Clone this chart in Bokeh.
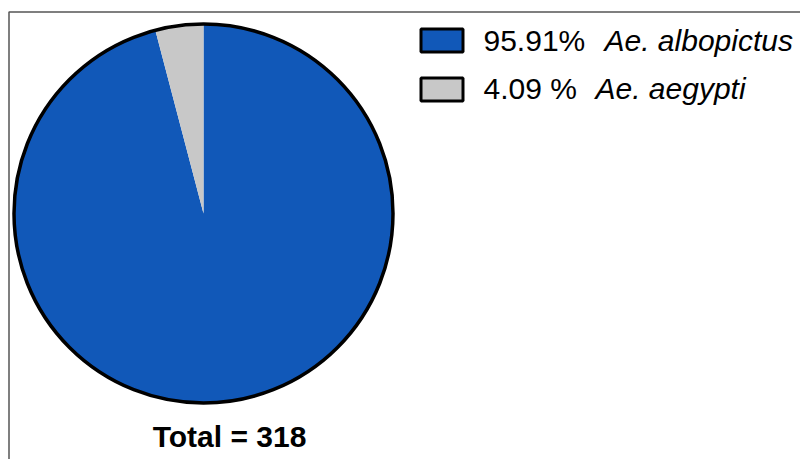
import math
from bokeh.plotting import figure
from bokeh.models import Range1d
from bokeh.core.properties import value
from bokeh.embed import file_html
from bokeh.resources import INLINE

species = ["Ae. albopictus", "Ae. aegypti"]
pct_labels = ["95.91%", "4.09 %"]
percents = [95.91, 4.09]
colors = ["#1158B8", "#C8C8C8"]
total = 318

W, H = 800, 459
p = figure(width=W, height=H, output_backend="svg", toolbar_location=None,
           x_range=Range1d(0, W), y_range=Range1d(0, H), min_border=0)
p.axis.visible = False
p.grid.visible = False
p.outline_line_color = None
p.background_fill_color = "white"

def Y(y):
    return H - y

TOFF = 11  # baseline correction for svg text

# frame
p.line([8.5, 8.5, W], [Y(H), Y(11.5), Y(11.5)], line_color="#555555", line_width=1.5)

cx, cy, r = 203, Y(213), 189.5
start = math.pi / 2
angles = []
for pc in reversed(percents):
    a = pc / 100 * 2 * math.pi
    angles.append((start, start + a))
    start += a
angles = list(reversed(angles))
for (a0, a1), c in zip(angles, colors):
    p.wedge(x=cx, y=cy, radius=r, start_angle=a0, end_angle=a1, direction="anticlock",
            fill_color=c, line_color=None)
p.circle(x=cx, y=cy, radius=r, fill_color=None, line_color="black", line_width=3.5)

p.text(x=[229], y=[Y(447 - TOFF)], text=[f"Total = {total}"], text_align="center",
       text_baseline="alphabetic", text_font=value("Liberation Sans"),
       text_font_style="bold", text_font_size="30px", text_color="black")

box_tops = [27, 76]
baselines = [51, 99]
ital_x = [604, 595]
for i in range(len(species)):
    p.quad(left=420.5, right=462.5, top=Y(box_tops[i] + 1.5), bottom=Y(box_tops[i] + 24.5),
           fill_color=colors[i], line_color="black", line_width=3)
    p.text(x=[483], y=[Y(baselines[i] - TOFF)], text=[pct_labels[i]], text_baseline="alphabetic",
           text_font=value("Liberation Sans"), text_font_size="30px", text_color="black")
    p.text(x=[ital_x[i]], y=[Y(baselines[i] - TOFF)], text=[species[i]], text_baseline="alphabetic",
           text_font=value("Liberation Sans"), text_font_style="italic",
           text_font_size="30px", text_color="black")

open("out.html", "w").write(file_html(p, INLINE))
